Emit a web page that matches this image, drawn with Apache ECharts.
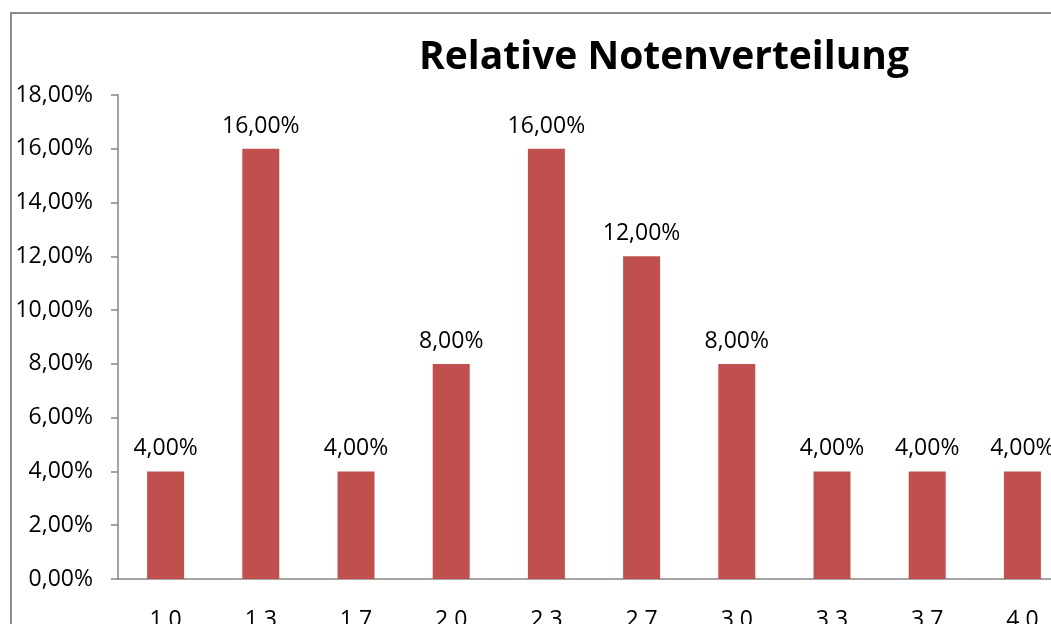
<!DOCTYPE html>
<html>
<head>
<meta charset="utf-8">
<script src="https://cdn.jsdelivr.net/npm/echarts@6/dist/echarts.min.js"></script>
<style>
html,body{margin:0;padding:0;width:1051px;height:624px;overflow:hidden;background:#fff;}
#frame{position:absolute;left:10px;top:12px;width:1200px;height:800px;border-left:2px solid #8c8c8c;border-top:2px solid #8c8c8c;box-sizing:border-box;}
#chart{position:absolute;left:0;top:0;width:1100px;height:660px;}
</style>
</head>
<body>
<div id="frame"></div>
<div id="chart"></div>
<script>
const categories = ["1,0","1,3","1,7","2,0","2,3","2,7","3,0","3,3","3,7","4,0"];
const shares = [4, 16, 4, 8, 16, 12, 8, 4, 4, 4];
const yTicks = { min: 0, max: 18, interval: 2 };
const titleText = "Relative Notenverteilung";

const fmt = v => v.toFixed(2).replace('.', ',') + '%';
const font = "'Open Sans', 'Noto Sans', sans-serif";

const chart = echarts.init(document.getElementById('chart'), null, {renderer:'canvas'});
chart.setOption({
  animation: false,
  backgroundColor: 'transparent',
  title: {
    text: titleText,
    left: 659,
    textAlign: 'center',
    top: 33,
    textStyle: { fontFamily: font, fontWeight: 'bold', fontSize: 39, color: '#000' }
  },
  grid: { left: 118, right: 30, top: 95, bottom: 81, containLabel: false },
  xAxis: {
    type: 'category',
    data: categories,
    axisLine: { lineStyle: { color: '#868686', width: 1.5 } },
    axisTick: { show: false },
    axisLabel: { margin: 30, fontFamily: font, fontSize: 23, color: '#000' }
  },
  yAxis: {
    type: 'value',
    min: yTicks.min, max: yTicks.max, interval: yTicks.interval,
    axisLine: { show: true, lineStyle: { color: '#868686', width: 1.5 } },
    axisTick: { show: true, length: 7, lineStyle: { color: '#868686', width: 1.5 } },
    splitLine: { show: false },
    axisLabel: { margin: 25, fontFamily: font, fontSize: 23, color: '#000', formatter: v => fmt(v) }
  },
  series: [{
    type: 'bar',
    data: shares,
    barWidth: 37,
    itemStyle: { color: '#C0504D' },
    label: {
      show: true, position: 'top', distance: 11,
      fontFamily: font, fontSize: 23, color: '#000',
      formatter: p => fmt(p.value)
    }
  }]
});
</script>
</body>
</html>
